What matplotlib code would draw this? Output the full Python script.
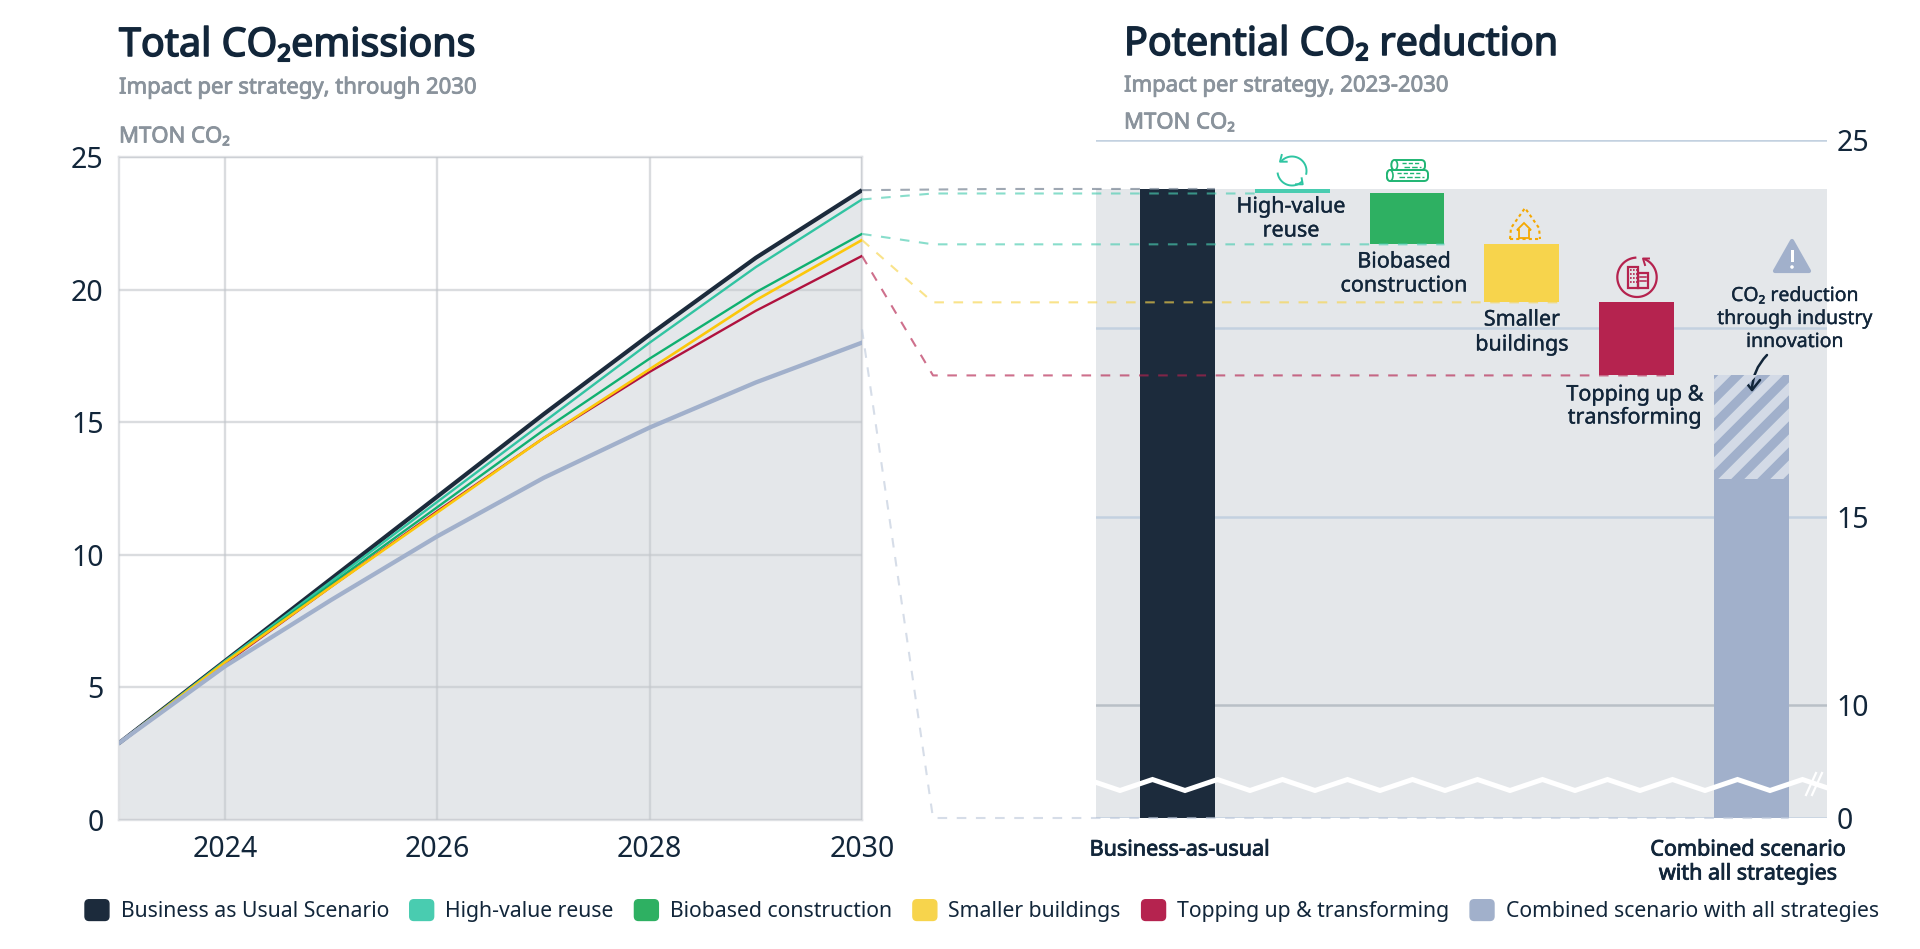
"""
Total CO2 emissions per strategy, and the waterfall of potential reductions.
"""
import numpy as np
import matplotlib
matplotlib.use("agg")
import matplotlib.pyplot as plt
import matplotlib.patheffects as pe
from matplotlib.legend_handler import HandlerPatch
from matplotlib.patches import (Circle, Ellipse, FancyArrowPatch,
                                FancyBboxPatch, Patch, Polygon, Rectangle)

plt.rcParams['font.family'] = ['Noto Sans', 'DejaVu Sans']

YEARS = [2023, 2024, 2025, 2026, 2027, 2028, 2029, 2030]
BAU = [2.9, 6.0, 9.1, 12.2, 15.3, 18.3, 21.2, 23.75]
HIGH_VALUE = [2.9, 6.0, 9.0, 12.0, 15.0, 18.0, 20.85, 23.4]
BIOBASED = [2.9, 5.95, 8.9, 11.8, 14.7, 17.4, 19.9, 22.1]
SMALLER = [2.9, 5.95, 8.8, 11.6, 14.4, 17.0, 19.6, 21.87]
TOPPING = [2.9, 5.9, 8.8, 11.65, 14.4, 16.9, 19.2, 21.27]
COMBINED = [2.9, 5.8, 8.3, 10.7, 12.9, 14.8, 16.5, 18.0]

# waterfall levels on the right panel
LEVELS = [23.7, 23.58, 22.23, 20.69, 18.75]
COMBINED_SOLID = 16.0
# where each dashed connector leaves the left chart
CONNECT_START = [23.75, 23.4, 22.1, 21.87, 21.27, 18.5]

NAVY = "#1c2b3c"
TEAL = "#49ccb0"
GREEN = "#2eb062"
YELLOW = "#f7d44c"
RED = "#b5234f"
BLUE = "#a1b0cb"
PALE = "#d3dae6"
FILL = "#e4e7ea"
INK = "#12263a"
MUTED = "#8a939c"

LEGEND_LABELS = ["Business as Usual Scenario", "High-value reuse",
                 "Biobased construction", "Smaller buildings",
                 "Topping up & transforming",
                 "Combined scenario with all strategies"]

W, H = 1920, 949


def px_rect(left, top, right, bottom):
    return [left / W, 1 - bottom / H, (right - left) / W, (bottom - top) / H]


def to_px(ax, x, y):
    xd, yd = ax.transData.transform((x, y))
    return xd, H - yd


def heavy(width, color):
    # the installed Noto Sans has no bold face, so thicken with a stroke
    return [pe.withStroke(linewidth=width, foreground=color)]


def ring(axis, cx, cy, r, start, stop, color, lw):
    a = np.radians(np.linspace(start, stop, 60))
    axis.plot(cx + r * np.cos(a), cy - r * np.sin(a), color=color, lw=lw)


def rounded_swatch(legend, orig_handle, xdescent, ydescent, width, height,
                   fontsize):
    return FancyBboxPatch((-xdescent + 2, -ydescent + 2), width - 4, height - 4,
                          boxstyle="round,pad=2,rounding_size=3")


fig = plt.figure(figsize=(W / 100, H / 100), dpi=100)

# left chart
ax = fig.add_axes(px_rect(119, 157, 862, 820))
ax.fill_between(YEARS, BAU, 0, color=FILL, lw=0, zorder=1)
ax.plot(YEARS, BAU, color=NAVY, lw=3.0, zorder=3, solid_capstyle="butt")
ax.plot(YEARS, HIGH_VALUE, color="#31c4a2", lw=1.7, zorder=3)
ax.plot(YEARS, BIOBASED, color="#10b070", lw=1.7, zorder=3)
ax.plot(YEARS, TOPPING, color="#b0123f", lw=1.7, zorder=3)
ax.plot(YEARS, SMALLER, color="#fcc70a", lw=1.9, zorder=3)
ax.plot(YEARS, COMBINED, color=BLUE, lw=3.1, zorder=3)
ax.set_xlim(2023, 2030)
ax.set_ylim(0, 25)
ax.set_xticks([2024, 2026, 2028, 2030])
ax.set_yticks([0, 5, 10, 15, 20, 25])
ax.grid(True, color="#c2c6cb", alpha=0.6, lw=1.7, zorder=2)
ax.set_axisbelow(False)
ax.tick_params(length=0, labelsize=20.5, labelcolor=INK, pad=11)
for spine in ax.spines.values():
    spine.set_color("#dfe1e4")
    spine.set_linewidth(1.7)


# right chart, stretched above 10 with an axis break below it
def broken(v):
    return np.interp(v, [0, 10, 25], [0, 113, 678])


def unbroken(v):
    return np.interp(v, [0, 113, 678], [0, 10, 25])


axr = fig.add_axes(px_rect(1096, 140, 1827, 818))
axr.set_yscale("function", functions=(broken, unbroken))
axr.set_xlim(-0.71, 5.66)
axr.set_ylim(0, 25)
axr.axhspan(0, LEVELS[0], color=FILL, lw=0, zorder=0)
axr.set_yticks([0, 10, 15, 20, 25])
axr.set_yticklabels(["0", "10", "15", "", "25"])
axr.yaxis.tick_right()
axr.set_xticks([])
axr.tick_params(axis="y", length=0, labelsize=20.5, labelcolor=INK, pad=7)
axr.minorticks_off()
axr.grid(True, axis="y", color="#c3d1e0", lw=1.8, zorder=1)
axr.get_ygridlines()[1].set_color("#b9c0c7")
axr.set_axisbelow(True)
for spine in axr.spines.values():
    spine.set_visible(False)

bar_w = 0.653
axr.bar(0, LEVELS[0], bar_w, color=NAVY, zorder=2)
for i, col in enumerate([TEAL, GREEN, YELLOW, RED]):
    axr.bar(i + 1, LEVELS[i] - LEVELS[i + 1], bar_w, bottom=LEVELS[i + 1],
            color=col, zorder=2)
axr.bar(5, COMBINED_SOLID, bar_w, color=BLUE, zorder=2)
axr.bar(5, LEVELS[-1] - COMBINED_SOLID, bar_w, bottom=COMBINED_SOLID,
        color=BLUE, zorder=2)

# overlay in figure pixels, y pointing down
ov = fig.add_axes([0, 0, 1, 1], zorder=10)
ov.set_xlim(0, W)
ov.set_ylim(H, 0)
ov.axis("off")
ov.patch.set_alpha(0)

# stripes on the industry innovation part
x_hl, y_hb = to_px(axr, 5 - bar_w / 2, COMBINED_SOLID)
x_hr, y_ht = to_px(axr, 5 + bar_w / 2, LEVELS[-1])
for x0 in np.arange(x_hl + 11 - 26 * 5, x_hr, 26):
    stripe, = ov.plot([x0 - 20, x0 + (y_hb - y_ht) + 20],
                      [y_hb + 20, y_ht - 20], color=PALE, lw=6.6,
                      solid_capstyle="butt")
    stripe.set_clip_path(Rectangle((x_hl, y_ht), x_hr - x_hl, y_hb - y_ht,
                                   transform=ov.transData))

# axis break
zig_x = 1087.5 + 32.5 * np.arange(24)
zig_y = 785 + 5.5 * np.where(np.arange(24) % 2 == 0, -1, 1)
zig_line, = ov.plot(zig_x, zig_y, color="white", lw=3.6,
                    solid_joinstyle="miter")
zig_line.set_clip_path(Rectangle((1096, 760), 731, 50, transform=ov.transData))
ov.plot([1806, 1816], [795, 773], color="white", lw=1.6)
ov.plot([1812, 1822], [795, 773], color="white", lw=1.6)

# dashed connectors between the panels
ends = [(LEVELS[0], 0, 0.5), (LEVELS[1], 1, -0.5), (LEVELS[2], 2, 0.5),
        (LEVELS[3], 3, 0.5), (LEVELS[4], 4, 0.5), (0, 5, 0.5)]
conn_cols = ["#6c7a8a", TEAL, TEAL, YELLOW, RED, "#c0cbdc"]
for start, (lvl, pos, side), col in zip(CONNECT_START, ends, conn_cols):
    x0, y0 = to_px(ax, 2030, start)
    _, y1 = to_px(axr, 0, lvl)
    x2, _ = to_px(axr, pos + side * bar_w, lvl)
    elbow = 933 if start != CONNECT_START[0] else 1000
    ov.plot([x0, elbow, x2], [y0, y1, y1], color=col, lw=1.5, alpha=0.65,
            linestyle=(0, (4.6, 4.6)))

# headings
for x, y, s in [(119, 46, "Total CO₂emissions"),
                (1124, 45, "Potential CO₂ reduction")]:
    ov.text(x, y, s, fontsize=28.4, color=INK, va="center",
            path_effects=heavy(1.1, INK))
for x, y, s in [(119, 88, "Impact per strategy, through 2030"),
                (1124, 86, "Impact per strategy, 2023-2030"),
                (119, 137, "MTON CO₂"), (1124, 123, "MTON CO₂")]:
    ov.text(x, y, s, fontsize=15.9, color=MUTED, va="center",
            path_effects=heavy(0.6, MUTED))

# bar annotations
for x, y, s in [(1291, 207, "High-value"), (1291, 231, "reuse"),
                (1404, 262, "Biobased"), (1404, 286, "construction"),
                (1522, 320, "Smaller"), (1522, 345, "buildings"),
                (1635, 395, "Topping up &"), (1635, 418, "transforming")]:
    ov.text(x, y, s, fontsize=15.5, color=INK, ha="center", va="center",
            path_effects=heavy(0.25, INK))
for y, s in [(296, "CO₂ reduction"), (319, "through industry"),
             (342, "innovation")]:
    ov.text(1795, y, s, fontsize=14, color=INK, ha="center", va="center",
            path_effects=heavy(0.25, INK))
for x, y, s in [(1180, 850, "Business-as-usual"),
                (1748, 850, "Combined scenario"),
                (1748, 874, "with all strategies")]:
    ov.text(x, y, s, fontsize=15.5, color=INK, ha="center", va="center",
            path_effects=heavy(0.6, INK))

ov.add_patch(FancyArrowPatch((1767, 355), (1752, 392), color=INK, lw=1.8,
                             arrowstyle="->,head_length=4.5,head_width=3.6",
                             connectionstyle="arc3,rad=0.2", mutation_scale=1.6,
                             shrinkA=0, shrinkB=0))

# icons
c = "#2fc5a2"
ring(ov, 1292, 171, 14.5, 133, -11, c, 1.4)
ring(ov, 1292, 171, 14.5, -48, -170, c, 1.4)
ov.plot([1281.7, 1280, 1286.7], [155, 161.7, 161.7], color=c, lw=1.4)
ov.plot([1301.7, 1302.7, 1296], [178.3, 184.3, 184.3], color=c, lw=1.4)

c = "#1fb573"
for x, y, w, h in [(1391.5, 160, 33.5, 10), (1387, 170, 41, 11)]:
    ov.add_patch(FancyBboxPatch((x, y), w, h, fc="none", ec=c, lw=1.4,
                                boxstyle="round,pad=0,rounding_size=4"))
    ov.add_patch(Ellipse((x + 3, y + h / 2), 6, h, fc="white", ec=c, lw=1.2))
    ov.plot([x + 10, x + w - 6], [y + 3, y + 3], color=c, lw=1, ls=(0, (3, 1.5)))
    ov.plot([x + 12, x + w - 4], [y + 7, y + 7], color=c, lw=1, ls=(0, (4, 1.5)))

c = "#f5a800"
ov.plot([1510, 1511, 1525, 1539, 1540], [239, 228, 208, 228, 239], color=c,
        lw=1.5, ls=(0, (1.5, 1.5)))
ov.plot([1510, 1540], [239, 239], color=c, lw=1.5, ls=(0, (1.5, 1.5)))
ov.add_patch(Polygon([[1517, 230], [1524, 223], [1531, 230], [1529, 230],
                      [1529, 238], [1519, 238], [1519, 230]], fc="none", ec=c,
                     lw=1.3))

c = RED
ring(ov, 1637, 277.3, 19.7, 65, -265, c, 1.6)
ov.plot([1649, 1643, 1645], [258.5, 258.5, 265], color=c, lw=1.4)
ov.add_patch(Rectangle((1627.5, 266.5), 10.5, 21.5, fc="none", ec=c, lw=1.6))
ov.add_patch(Rectangle((1638, 272.5), 9.5, 15.5, fc="none", ec=c, lw=1.6))
for yy in [270, 274, 278, 282]:
    ov.plot([1629.5, 1636.5], [yy, yy], color=c, lw=1.2, ls=(0, (1, 0.8)))
for yy in [277, 281]:
    ov.plot([1640, 1646], [yy, yy], color=c, lw=1.1)

ov.add_patch(Polygon([[1792, 241], [1775, 271], [1809, 271]], fc=BLUE, ec=BLUE,
                     lw=3, joinstyle="round"))
ov.add_patch(Rectangle((1790.5, 250), 3, 12, fc="white", ec="none"))
ov.add_patch(Circle((1792, 267), 1.8, fc="white", ec="none"))

# legend
handles = [Patch(color=col) for col in [NAVY, TEAL, GREEN, YELLOW, RED, BLUE]]
fig.legend(handles, LEGEND_LABELS, ncol=6, loc="center left",
           bbox_to_anchor=(85 / W, 1 - 911 / H), frameon=False, fontsize=15.25,
           labelcolor=INK, handlelength=1.13, handleheight=1.13,
           handletextpad=0.55, columnspacing=0.98, borderpad=0, borderaxespad=0,
           handler_map={Patch: HandlerPatch(patch_func=rounded_swatch)})

fig.savefig("out.png", dpi=100)
